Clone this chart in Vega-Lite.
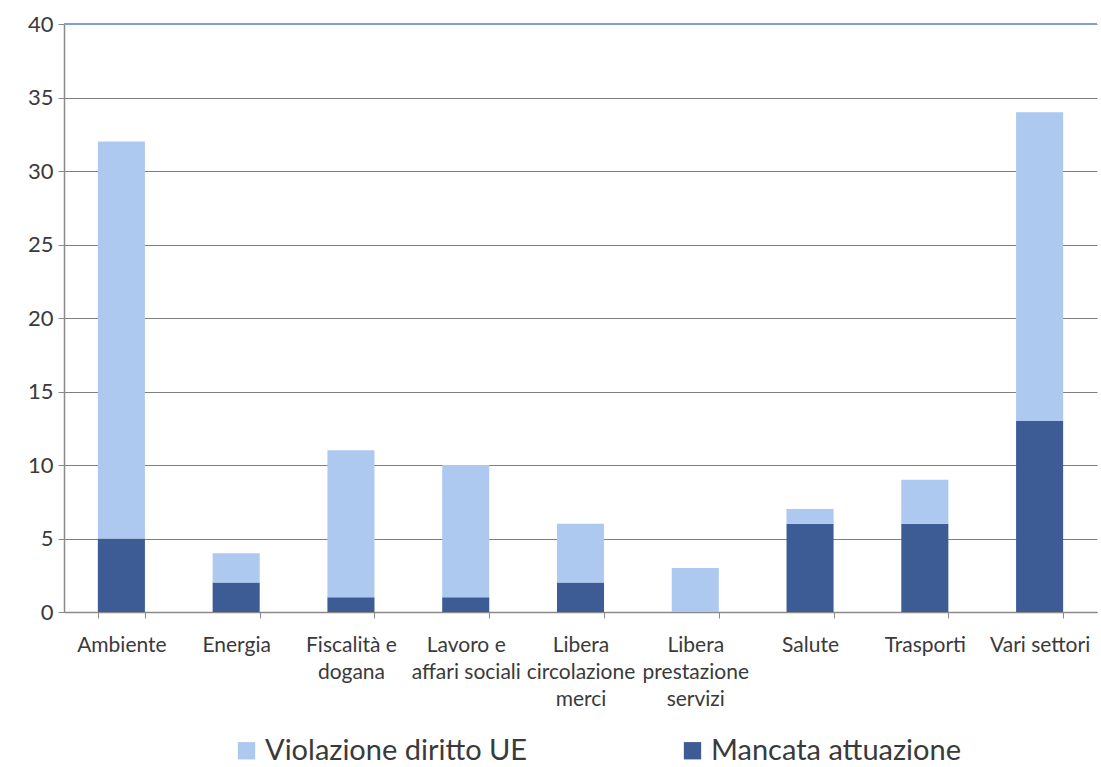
{
  "$schema": "https://vega.github.io/schema/vega-lite/v6.json",
  "width": 1101,
  "height": 767,
  "autosize": {"type": "fit", "contains": "padding"},
  "padding": {"left": 27, "right": 3, "top": 13, "bottom": 58},
  "background": "white",
  "config": {
    "view": {"stroke": null},
    "font": "Lato",
    "axis": {"labelFont": "Lato", "labelColor": "#3a3a3a"}
  },
  "data": {
    "values": [
      {"settore": "Ambiente", "tipo": "Mancata attuazione", "ord": 0, "n": 5},
      {"settore": "Ambiente", "tipo": "Violazione diritto UE", "ord": 1, "n": 27},
      {"settore": "Energia", "tipo": "Mancata attuazione", "ord": 0, "n": 2},
      {"settore": "Energia", "tipo": "Violazione diritto UE", "ord": 1, "n": 2},
      {"settore": "Fiscalità e dogana", "tipo": "Mancata attuazione", "ord": 0, "n": 1},
      {"settore": "Fiscalità e dogana", "tipo": "Violazione diritto UE", "ord": 1, "n": 10},
      {"settore": "Lavoro e affari sociali", "tipo": "Mancata attuazione", "ord": 0, "n": 1},
      {"settore": "Lavoro e affari sociali", "tipo": "Violazione diritto UE", "ord": 1, "n": 9},
      {"settore": "Libera circolazione merci", "tipo": "Mancata attuazione", "ord": 0, "n": 2},
      {"settore": "Libera circolazione merci", "tipo": "Violazione diritto UE", "ord": 1, "n": 4},
      {"settore": "Libera prestazione servizi", "tipo": "Mancata attuazione", "ord": 0, "n": 0},
      {"settore": "Libera prestazione servizi", "tipo": "Violazione diritto UE", "ord": 1, "n": 3},
      {"settore": "Salute", "tipo": "Mancata attuazione", "ord": 0, "n": 6},
      {"settore": "Salute", "tipo": "Violazione diritto UE", "ord": 1, "n": 1},
      {"settore": "Trasporti", "tipo": "Mancata attuazione", "ord": 0, "n": 6},
      {"settore": "Trasporti", "tipo": "Violazione diritto UE", "ord": 1, "n": 3},
      {"settore": "Vari settori", "tipo": "Mancata attuazione", "ord": 0, "n": 13},
      {"settore": "Vari settori", "tipo": "Violazione diritto UE", "ord": 1, "n": 21}
    ]
  },
  "layer": [
    {
      "mark": {"type": "bar"},
      "encoding": {
        "x": {
          "field": "settore",
          "type": "nominal",
          "sort": null,
          "title": null,
          "scale": {"paddingInner": 0.59, "paddingOuter": 0.295},
          "axis": {
            "labelAngle": 0,
            "labelFontSize": 21,
            "labelPadding": 16,
            "labelLineHeight": 27,
            "labelLimit": 200,
            "tickBand": "extent",
            "tickSize": 6,
            "tickColor": "#8a8a8a",
            "domainColor": "#8a8a8a",
            "domainWidth": 1.5,
            "labelExpr": "datum.label == 'Fiscalità e dogana' ? ['Fiscalità e', 'dogana'] : datum.label == 'Lavoro e affari sociali' ? ['Lavoro e', 'affari sociali'] : datum.label == 'Libera circolazione merci' ? ['Libera', 'circolazione', 'merci'] : datum.label == 'Libera prestazione servizi' ? ['Libera', 'prestazione', 'servizi'] : datum.label"
          }
        },
        "y": {
          "field": "n",
          "type": "quantitative",
          "stack": "zero",
          "title": null,
          "scale": {"domain": [0, 40]},
          "axis": {
            "values": [0, 5, 10, 15, 20, 25, 30, 35, 40],
            "labelFontSize": 22,
            "labelPadding": 5,
            "tickSize": 6,
            "tickColor": "#8a8a8a",
            "domainColor": "#8a8a8a",
            "domainWidth": 1.5,
            "gridColor": "#7f7f7f",
            "gridWidth": 1.2
          }
        },
        "color": {
          "field": "tipo",
          "type": "nominal",
          "scale": {
            "domain": ["Violazione diritto UE", "Mancata attuazione"],
            "range": ["#adc9f0", "#3d5c96"]
          },
          "legend": {
            "title": null,
            "orient": "none",
            "legendX": 168,
            "legendY": 712,
            "direction": "horizontal",
            "symbolType": "square",
            "symbolSize": 300,
            "symbolStrokeWidth": 0,
            "labelFontSize": 29,
            "labelColor": "#3a3a3a",
            "labelLimit": 400,
            "columnPadding": 150
          }
        },
        "order": {"field": "ord", "type": "quantitative"}
      }
    },
    {
      "mark": {"type": "rule", "color": "#7f9fd4", "strokeWidth": 1.5},
      "encoding": {"y": {"datum": 40}}
    }
  ]
}
